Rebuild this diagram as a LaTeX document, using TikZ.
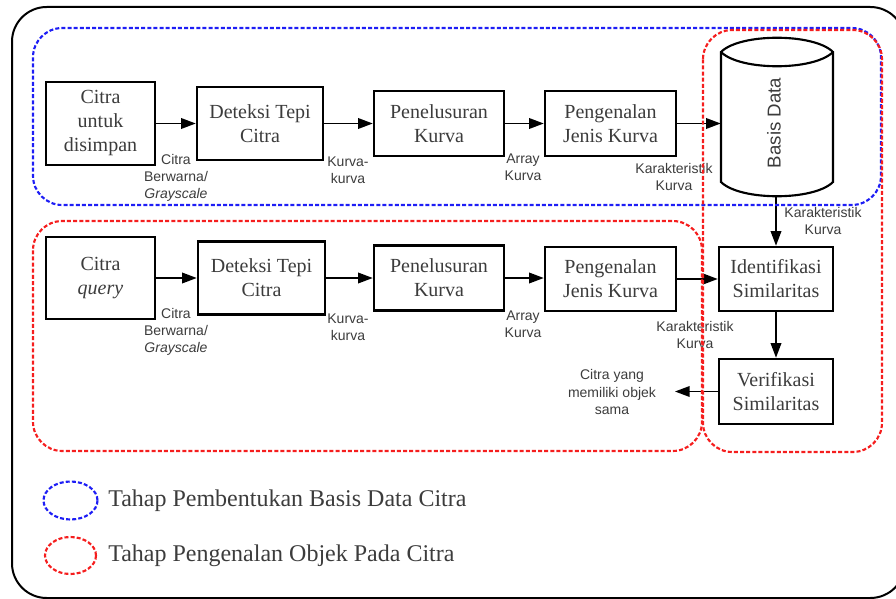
\documentclass[tikz,border=0pt]{standalone}
\usepackage{fontspec}
\setmainfont{Liberation Serif}
\newfontfamily\labelfont{Liberation Sans}
\usetikzlibrary{arrows.meta}
\definecolor{txt}{RGB}{60,60,60}
\definecolor{zoneblue}{RGB}{30,30,245}
\definecolor{zonered}{RGB}{245,30,30}
\begin{document}
\begin{tikzpicture}[x=0.75pt,y=-0.75pt,
  stepbox/.style={draw=black,line width=1.9pt,fill=white,align=center,
    text=txt,font=\fontsize{15}{18}\selectfont,inner sep=0pt},
  flow/.style={line width=1.1pt,-{Triangle[length=11pt,width=8pt]}},
  lbl/.style={align=center,text=txt,font=\labelfont\fontsize{10.5}{13}\selectfont,inner sep=0pt},
  zone/.style={line width=1.6pt,dash pattern=on 3pt off 1.6pt,rounded corners=22pt},
  legtxt/.style={anchor=west,text=txt,font=\fontsize{18}{21}\selectfont,inner sep=0pt}]
\useasboundingbox (0,0) rectangle (896,599);
\clip (0,0) rectangle (896,599);

% outer frame
\draw[line width=1.5pt,rounded corners=26pt] (12,7) rectangle (905,598);

% storage row
\node[stepbox,minimum width=81.75pt,minimum height=62.25pt] (c1) at (100.5,123.5) {Citra\\untuk\\disimpan};
\node[stepbox,minimum width=94.5pt,minimum height=54.75pt] (d1) at (260,123.5) {Deteksi Tepi\\Citra};
\node[stepbox,minimum width=97.5pt,minimum height=48.75pt] (p1) at (439,123.5) {Penelusuran\\Kurva};
\node[stepbox,minimum width=98.25pt,minimum height=48.75pt] (j1) at (610.5,123.5) {Pengenalan\\Jenis Kurva};

% database cylinder
\node[minimum width=84pt,minimum height=117.75pt,inner sep=0pt] (db) at (777,116.5) {};
\draw[line width=1.6pt,fill=white]
  (721,52) .. controls (740,33) and (814,33) .. (833,52)
  -- (833,182) .. controls (814,201) and (740,201) .. (721,182) -- cycle;
\draw[line width=1.6pt] (721,52) .. controls (740,71) and (814,71) .. (833,52);
\node[rotate=90,text=txt,font=\labelfont\fontsize{14}{16}\selectfont,inner sep=0pt] (dbtext) at (774,123) {Basis Data};

% query row
\node[stepbox,minimum width=81.75pt,minimum height=61.5pt] (c2) at (100.5,278) {Citra\\\textit{query}};
\node[stepbox,minimum width=95.25pt,minimum height=54.75pt] (d2) at (261.5,278) {Deteksi Tepi\\Citra};
\node[stepbox,minimum width=97.5pt,minimum height=48.75pt] (p2) at (439,278) {Penelusuran\\Kurva};
\node[stepbox,minimum width=98.25pt,minimum height=48pt] (j2) at (610.5,279) {Pengenalan\\Jenis Kurva};
\node[stepbox,minimum width=85.5pt,minimum height=48pt] (id) at (776,279) {Identifikasi\\Similaritas};
\node[stepbox,minimum width=85.5pt,minimum height=48.75pt] (vf) at (776,391.5) {Verifikasi\\Similaritas};
\coordinate (out) at (675,391.5);

% connectors
\draw[flow] (c1.east) -- (d1.west);
\draw[flow] (d1.east) -- (p1.west);
\draw[flow] (p1.east) -- (j1.west);
\draw[flow] (j1.east) -- (j1.east -| db.west);
\draw[flow] (db.south -| id.north) -- (id.north);
\draw[flow] (c2.east) -- (d2.west);
\draw[flow] (d2.east) -- (p2.west);
\draw[flow] (p2.east) -- (p2.east -| j2.west);
\draw[flow] (j2.east) -- (id.west);
\draw[flow] (id.south) -- (vf.north);
\draw[flow] (vf.west) -- (out);

% connector labels
\node[lbl] (l1) at (176,178) {Citra\\Berwarna/\\\textit{Grayscale}};
\node[lbl] (l2) at (348,170) {Kurva-\\kurva};
\node[lbl] (l3) at (523,167) {Array\\Kurva};
\node[lbl] (l4) at (674,177) {Karakteristik\\Kurva};
\node[lbl] (l5) at (823,221) {Karakteristik\\Kurva};
\node[lbl] (l6) at (176,332) {Citra\\Berwarna/\\\textit{Grayscale}};
\node[lbl] (l7) at (348,327) {Kurva-\\kurva};
\node[lbl] (l8) at (523,324) {Array\\Kurva};
\node[lbl] (l9) at (695,335) {Karakteristik\\Kurva};
\node[lbl] (l10) at (612,392) {Citra yang\\memiliki objek\\sama};

% stage zones
\draw[zone,zoneblue] (33,28) rectangle (881,205);
\draw[zone,zonered] (33,221) rectangle (702,451);
\draw[zone,zonered] (703,30) rectangle (882,452);

% legend
\draw[zoneblue,line width=1.6pt,dash pattern=on 3pt off 1.6pt] (70.5,500.5) ellipse [x radius=27,y radius=19];
\node[legtxt] (t1) at (108,501) {Tahap Pembentukan Basis Data Citra};
\draw[zonered,line width=1.6pt,dash pattern=on 3pt off 1.6pt] (70.5,555.5) ellipse [x radius=25.5,y radius=18.5];
\node[legtxt] (t2) at (108,556) {Tahap Pengenalan Objek Pada Citra};
\end{tikzpicture}
\end{document}
